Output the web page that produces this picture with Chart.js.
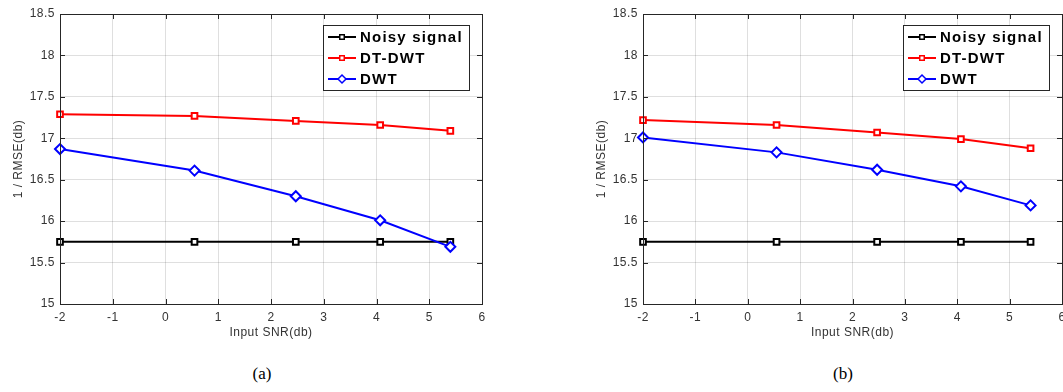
<!DOCTYPE html>
<html>
<head>
<meta charset="utf-8">
<script src="https://cdn.jsdelivr.net/npm/chart.js@4.4.0/dist/chart.umd.min.js"></script>
<style>
  html, body { margin: 0; padding: 0; background: #fff; }
  body { position: relative; width: 1063px; height: 392px; overflow: hidden; }
  .panel { position: absolute; top: 0; }
  .caption {
    position: absolute; top: 364px; line-height: 17px;
    font: 17px "Liberation Serif", "Times New Roman", serif; color: #000;
    transform: translateX(-50%);
  }
</style>
</head>
<body>
<div class="panel" style="left:0px"><canvas id="chartA" width="500" height="345"></canvas></div>
<div class="panel" style="left:583px"><canvas id="chartB" width="500" height="345"></canvas></div>
<div class="caption" style="left:262px">(a)</div>
<div class="caption" style="left:843px">(b)</div>

<script>
// input SNR points (db)
const snrIn = [-2, 0.55, 2.47, 4.07, 5.4];

// panel (a)
const noisyA = [15.75, 15.75, 15.75, 15.75, 15.75];
const dtdwtA = [17.29, 17.27, 17.21, 17.16, 17.09];
const dwtA   = [16.87, 16.61, 16.30, 16.01, 15.69];

// panel (b)
const noisyB = [15.75, 15.75, 15.75, 15.75, 15.75];
const dtdwtB = [17.22, 17.16, 17.07, 16.99, 16.88];
const dwtB   = [17.01, 16.83, 16.62, 16.42, 16.19];

const seriesNames = ['Noisy signal', 'DT-DWT', 'DWT'];
const xRange = [-2, 6];
const yRange = [15, 18.5];

const AXIS_FONT = { family: '"Liberation Sans", Arial, sans-serif', size: 12 };
const TEXT_COL = '#333333';

function makeSet(label, values, color, style, order) {
  return {
    label: label,
    data: snrIn.map((x, i) => ({ x: x, y: values[i] })),
    borderColor: color,
    backgroundColor: '#ffffff',
    borderWidth: 2,
    pointStyle: style,
    pointRadius: style === 'rectRot' ? 5 : 4,
    pointBorderWidth: 2,
    pointBackgroundColor: '#ffffff',
    pointBorderColor: color,
    showLine: true,
    clip: false,
    order: order
  };
}

// box, inward ticks and the legend, drawn the MATLAB way
const matlabAxes = {
  id: 'matlabAxes',
  beforeDraw(chart) {
    chart.ctx.letterSpacing = '0.5px';
  },
  afterDatasetsDraw(chart) {
    const ctx = chart.ctx;
    const a = chart.chartArea;
    const xs = chart.scales.x, ys = chart.scales.y;
    const tl = 5;
    ctx.save();
    ctx.strokeStyle = '#262626';
    ctx.lineWidth = 1;
    ctx.beginPath();
    xs.ticks.forEach(t => {
      const px = Math.round(xs.getPixelForValue(t.value)) + 0.5;
      ctx.moveTo(px, a.bottom); ctx.lineTo(px, a.bottom - tl);
      ctx.moveTo(px, a.top); ctx.lineTo(px, a.top + tl);
    });
    ys.ticks.forEach(t => {
      const py = Math.round(ys.getPixelForValue(t.value)) + 0.5;
      ctx.moveTo(a.left, py); ctx.lineTo(a.left + tl, py);
      ctx.moveTo(a.right, py); ctx.lineTo(a.right - tl, py);
    });
    ctx.stroke();
    ctx.strokeRect(Math.round(a.left) + 0.5, Math.round(a.top) + 0.5,
                   Math.round(a.right - a.left), Math.round(a.bottom - a.top));
    ctx.restore();
  },
  afterDraw(chart) {
    const ctx = chart.ctx;
    const a = chart.chartArea;
    const w = 146, h = 65;
    const bx = Math.round(a.right - 13 - w), by = Math.round(a.top + 11);
    ctx.save();
    ctx.fillStyle = '#ffffff';
    ctx.fillRect(bx, by, w, h);
    ctx.strokeStyle = '#262626';
    ctx.lineWidth = 1;
    ctx.strokeRect(bx + 0.5, by + 0.5, w, h);
    const sets = chart.data.datasets;
    sets.forEach((ds, i) => {
      const y = by + 12 + i * 21;
      ctx.strokeStyle = ds.borderColor;
      ctx.lineWidth = 2;
      ctx.beginPath();
      ctx.moveTo(bx + 5, y);
      ctx.lineTo(bx + 33, y);
      ctx.stroke();
      ctx.fillStyle = '#ffffff';
      ctx.lineWidth = 1.5;
      Chart.helpers.drawPoint(ctx, {
        pointStyle: ds.pointStyle,
        radius: ds.pointStyle === 'rectRot' ? 4 : 3.2,
        rotation: 0,
        borderWidth: 1.5
      }, bx + 19, y);
      ctx.letterSpacing = '1.2px';
      ctx.fillStyle = '#000000';
      ctx.font = 'bold 15px "Liberation Sans", Arial, sans-serif';
      ctx.textBaseline = 'middle';
      ctx.textAlign = 'left';
      ctx.fillText(ds.label, bx + 37, y + 1);
    });
    ctx.restore();
  }
};

// plain numbers on the ticks: 17 rather than 17.0
const plainTick = v => String(Math.round(v * 10) / 10);

function buildChart(canvasId, noisy, dtdwt, dwt, rightPad) {
  return new Chart(document.getElementById(canvasId), {
    type: 'scatter',
    data: {
      datasets: [
        makeSet(seriesNames[0], noisy, '#000000', 'rect', 3),
        makeSet(seriesNames[1], dtdwt, '#ff0000', 'rect', 2),
        makeSet(seriesNames[2], dwt, '#0000ff', 'rectRot', 1)
      ]
    },
    options: {
      responsive: false,
      animation: false,
      layout: { padding: { left: 0, top: 14, right: rightPad, bottom: 0 } },
      plugins: { legend: { display: false }, tooltip: { enabled: false } },
      scales: {
        x: {
          type: 'linear',
          min: xRange[0], max: xRange[1],
          ticks: { stepSize: 1, padding: 6, color: TEXT_COL, font: AXIS_FONT, maxRotation: 0, callback: plainTick },
          grid: { color: 'rgba(38,38,38,0.15)', drawTicks: false },
          border: { display: false },
          title: { display: true, text: 'Input SNR(db)', color: TEXT_COL, font: AXIS_FONT, padding: { top: 0, bottom: 5 } },
          afterFit(scale) { scale.height = 41; }
        },
        y: {
          type: 'linear',
          min: yRange[0], max: yRange[1],
          ticks: { stepSize: 0.5, padding: 5, color: TEXT_COL, font: AXIS_FONT, callback: plainTick },
          grid: { color: 'rgba(38,38,38,0.15)', drawTicks: false },
          border: { display: false },
          title: { display: true, text: '1 / RMSE(db)', color: TEXT_COL, font: AXIS_FONT, padding: { top: 11, bottom: 0 } },
          afterFit(scale) { scale.width = 60; }
        }
      }
    },
    plugins: [matlabAxes]
  });
}

buildChart('chartA', noisyA, dtdwtA, dwtA, 18);
buildChart('chartB', noisyB, dtdwtB, dwtB, 21);
</script>
</body>
</html>
